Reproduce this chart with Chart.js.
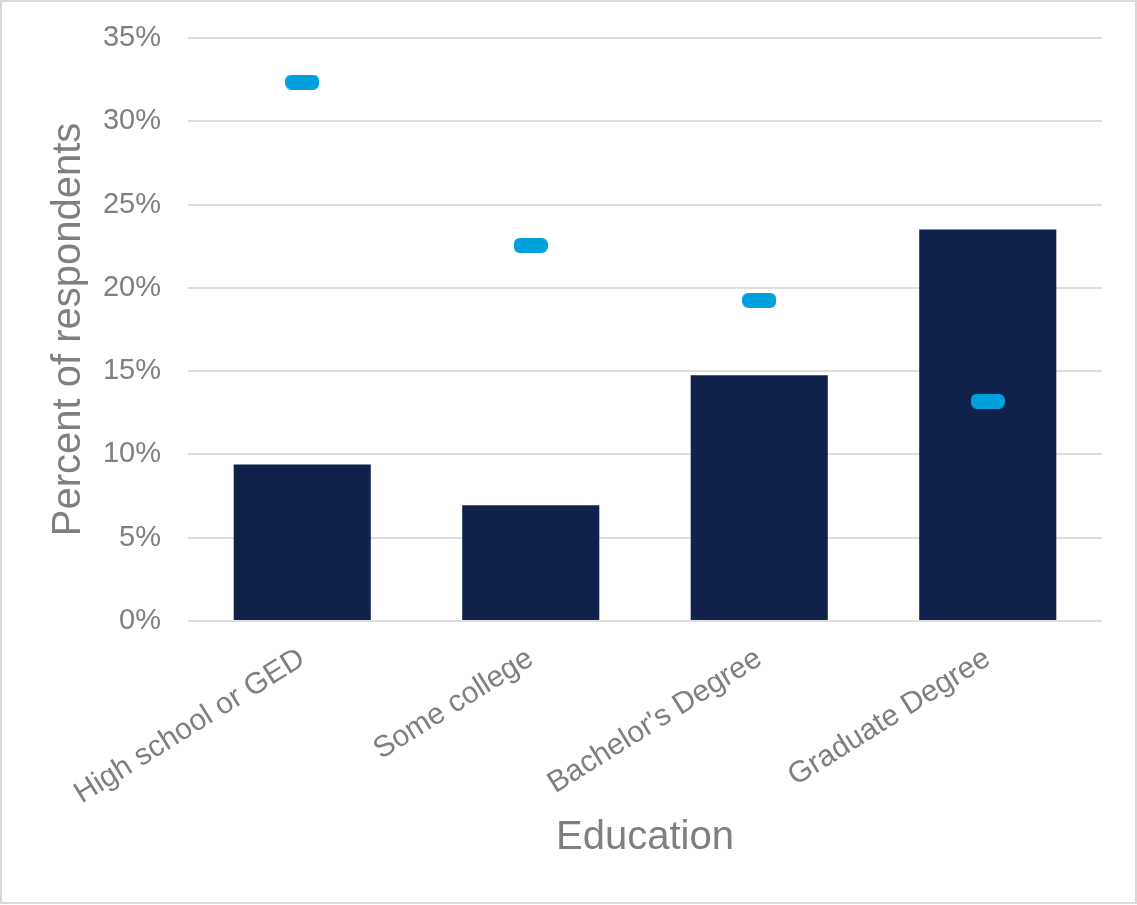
<!DOCTYPE html>
<html>
<head>
<meta charset="utf-8">
<title>Education</title>
<script src="https://cdn.jsdelivr.net/npm/chart.js@4"></script>
<style>
  html, body { margin: 0; padding: 0; background: #ffffff; overflow: hidden; }
  canvas { display: block; }
</style>
</head>
<body>
<canvas id="chart" width="1137" height="905"></canvas>
<script>
// Education levels on the x axis
const categories = ['High school or GED', 'Some college', "Bachelor's Degree", 'Graduate Degree'];
// Bar series (percent of respondents)
const barValues = [9.4, 6.95, 14.75, 23.5];
// Marker series (percent of respondents)
const markerValues = [32.35, 22.55, 19.25, 13.2];
// Y axis tick labels, 0% to 35% in steps of 5
const yTickLabels = ['0%', '5%', '10%', '15%', '20%', '25%', '30%', '35%'];

const FONT = "'Liberation Sans', Arial, sans-serif";
const TEXT_GRAY = '#7f7f7f';
const GRID_GRAY = '#dedede';

// Rounded dash used as the marker shape
function dashMarker(w, h, r, color) {
  const c = document.createElement('canvas');
  c.width = w; c.height = h;
  const g = c.getContext('2d');
  g.fillStyle = color;
  g.beginPath();
  g.roundRect(0, 0, w, h, r);
  g.fill();
  return c;
}
const marker = dashMarker(34, 15, 6, '#00a0dc');

// White background and thin light frame around the figure
const framePlugin = {
  id: 'frame',
  beforeDraw(chart) {
    const ctx = chart.ctx;
    ctx.save();
    ctx.fillStyle = '#ffffff';
    ctx.fillRect(0, 0, chart.width, chart.height);
    ctx.strokeStyle = '#d9d9d9';
    ctx.lineWidth = 2;
    ctx.strokeRect(1, 1, chart.width - 2, chart.height - 3);
    ctx.restore();
  }
};

new Chart(document.getElementById('chart'), {
  type: 'bar',
  data: {
    labels: categories,
    datasets: [
      {
        type: 'line',
        data: markerValues,
        showLine: false,
        pointStyle: marker,
        pointRadius: 10,
        pointHoverRadius: 10,
        order: 0
      },
      {
        type: 'bar',
        data: barValues,
        backgroundColor: '#10214b',
        borderWidth: 0,
        barPercentage: 0.6,
        categoryPercentage: 1.0,
        order: 1
      }
    ]
  },
  options: {
    responsive: false,
    animation: false,
    layout: { padding: { left: 0, right: 35, top: 38, bottom: 0 } },
    plugins: {
      legend: { display: false },
      tooltip: { enabled: false }
    },
    scales: {
      x: {
        grid: { display: false, drawTicks: false },
        border: { display: false },
        ticks: {
          color: TEXT_GRAY,
          font: { family: FONT, size: 30 },
          minRotation: 32,
          maxRotation: 32,
          padding: 20,
          autoSkip: false
        },
        title: {
          display: true,
          text: 'Education',
          color: TEXT_GRAY,
          font: { family: FONT, size: 40, lineHeight: 1.2 },
          padding: { top: 0, bottom: 43 }
        },
        afterFit(scale) { scale.height = 284; }
      },
      y: {
        min: 0,
        max: 35,
        // invisible tick marks keep the labels clear of the gridlines
        grid: { color: GRID_GRAY, lineWidth: 2, drawTicks: true, tickLength: 27, tickColor: 'rgba(0,0,0,0)' },
        border: { display: false },
        ticks: {
          stepSize: 5,
          color: TEXT_GRAY,
          font: { family: FONT, size: 29 },
          padding: 0,
          callback: (v, i) => yTickLabels[i]
        },
        title: {
          display: true,
          text: 'Percent of respondents',
          color: TEXT_GRAY,
          font: { family: FONT, size: 40, lineHeight: 1.2 },
          padding: { top: 45, bottom: 0 }
        },
        afterFit(scale) { scale.width = 188; }
      }
    }
  },
  plugins: [framePlugin]
});
</script>
</body>
</html>
